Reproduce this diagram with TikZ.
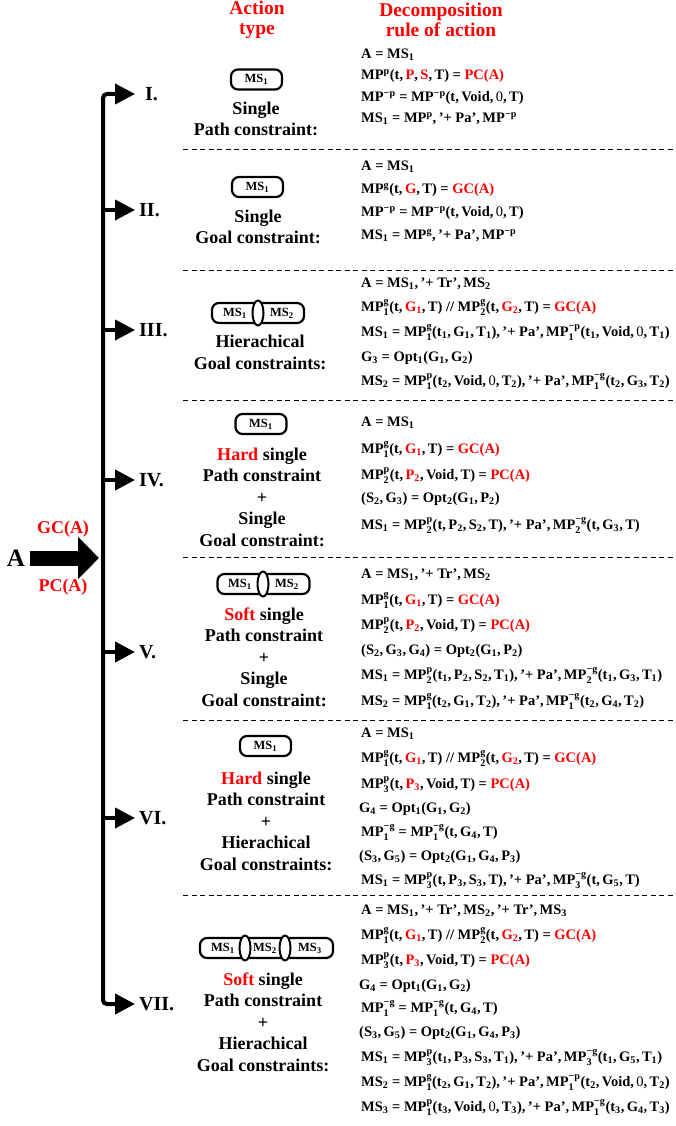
\documentclass[tikz,border=0pt]{standalone}
\usepackage{fontspec}
\setmainfont{Liberation Serif}
\usepackage{amsmath}
\usetikzlibrary{arrows.meta,calc,shapes.geometric}
\newcommand\R[1]{\textcolor{red}{#1}}
\newcommand\Sb[1]{$_{\text{#1}}$}
\newcommand\Sp[1]{$^{\text{#1}}$}
\newcommand\SU[2]{$_{\text{#1}}^{\text{#2}}$}
\newcommand\Cm{,\,}
\newcommand\Zr{{\mdseries 0}}
\tikzset{
  eq/.style={anchor=west, inner sep=0, font=\bfseries\fontsize{14.5}{16}\selectfont, text height=10pt, text depth=3.5pt},
  lab/.style={align=center, inner sep=0, font=\bfseries\fontsize{18}{21.5}\selectfont},
  head/.style={align=center, inner sep=0, text=red, font=\bfseries\fontsize{19.5}{20}\selectfont},
  num/.style={anchor=west, inner sep=0, font=\bfseries\fontsize{20}{20}\selectfont},
  msbox/.style={draw, line width=2.2pt, rounded corners=7pt, minimum height=20pt, inner sep=0},
  mst/.style={inner sep=0, font=\bfseries\fontsize{12.5}{13}\selectfont},
  oval/.style={ellipse, draw, fill=white, line width=2pt, minimum width=11pt, minimum height=25pt, inner sep=0},
  sep/.style={line width=0.9pt, dash pattern=on 5pt off 3.5pt},
  trunk/.style={line width=4pt, rounded corners=4pt, {Triangle[length=20pt,width=20pt]}-{Triangle[length=20pt,width=20pt]}},
  branch/.style={line width=4pt, -{Triangle[length=20pt,width=20pt]}},
  bigarrow/.style={line width=15pt, -{Triangle[length=21pt,width=41pt]}},
  redlab/.style={inner sep=0, text=red, font=\bfseries\fontsize{18}{18}\selectfont}
}
\begin{document}
\begin{tikzpicture}[x=1pt,y=-1pt]
\useasboundingbox (0,0) rectangle (676,1126);
% headers
\node[head] (h1) at (257,20) {Action\\type};
\node[head] (h2) at (441,20) {Decomposition\\rule of action};
% separators
\foreach \yy in {149,270,400,557,720,895} \draw[sep] (183,\yy) -- (676,\yy);
% left input
\node[inner sep=0, font=\bfseries\fontsize{25}{25}\selectfont] (A) at (16,558) {A};
\coordinate (hit) at (99,558);
\draw[bigarrow] ([xshift=5pt]A.east) -- (hit);
\node[redlab] (gc) at (63,529) {GC(A)};
\node[redlab] (pc) at (63,587) {PC(A)};
% numerals
\node[num] (r1) at (145,94) {I.};
\node[num] (r2) at (139,210) {II.};
\node[num] (r3) at (139,330) {III.};
\node[num] (r4) at (139,480) {IV.};
\node[num] (r5) at (139,652) {V.};
\node[num] (r6) at (139,818) {VI.};
\node[num] (r7) at (139,1004) {VII.};
\coordinate (tb) at (103,1004);
\draw[trunk, shorten <=10pt, shorten >=4pt] (r1.west) -| (tb) |- (r7.west);
\foreach \r in {r2,r3,r4,r5,r6} \draw[branch, shorten >=4pt] (\r.west -| tb) -- (\r.west);
% ---------- Row I
\node[msbox, minimum width=51pt] (b1) at (256.5,79.5) {};
\node[mst] (b1t) at (b1) {MS\Sb{1}};
\node[lab] (t1) at (256,119) {Single\\Path constraint:};
\node[eq] (e11) at (361,55) {A = MS\Sb{1}};
\node[eq] (e12) at (361,76) {MP\Sp{p}(t\Cm\R{P}\Cm\R{S}\Cm T) = \R{PC(A)}};
\node[eq] (e13) at (361,98) {MP\Sp{−p} = MP\Sp{−p}(t\Cm Void\Cm\Zr\Cm T)};
\node[eq] (e14) at (361,119) {MS\Sb{1} = MP\Sp{p}\Cm'+ Pa'\Cm MP\Sp{−p}};
% ---------- Row II
\node[msbox, minimum width=51pt] (b2) at (257.5,187) {};
\node[mst] (b2t) at (b2) {MS\Sb{1}};
\node[lab] (t2) at (258,227) {Single\\Goal constraint:};
\node[eq] (e21) at (361,167) {A = MS\Sb{1}};
\node[eq] (e22) at (361,190) {MP\Sp{g}(t\Cm\R{G}\Cm T) = \R{GC(A)}};
\node[eq] (e23) at (361,213) {MP\Sp{−p} = MP\Sp{−p}(t\Cm Void\Cm\Zr\Cm T)};
\node[eq] (e24) at (361,236) {MS\Sb{1} = MP\Sp{g}\Cm'+ Pa'\Cm MP\Sp{−p}};
% ---------- Row III
\node[msbox, minimum width=92pt] (b3) at (258,313) {};
\node[oval] (o3) at (258,313) {};
\node[mst] (b3a) at (235,313) {MS\Sb{1}};
\node[mst] (b3b) at (282,313) {MS\Sb{2}};
\node[lab] (t3) at (260,352.5) {Hierachical\\Goal constraints:};
\node[eq] (e31) at (361,284) {A = MS\Sb{1}\Cm'+ Tr'\Cm MS\Sb{2}};
\node[eq] (e32) at (361,308) {MP\SU{1}{g}(t\Cm\R{G\Sb{1}}\Cm T) // MP\SU{2}{g}(t\Cm\R{G\Sb{2}}\Cm T) = \R{GC(A)}};
\node[eq] (e33) at (361,333) {MS\Sb{1} = MP\SU{1}{g}(t\Sb{1}\Cm G\Sb{1}\Cm T\Sb{1})\Cm'+ Pa'\Cm MP\SU{1}{−p}(t\Sb{1}\Cm Void\Cm\Zr\Cm T\Sb{1})};
\node[eq] (e34) at (361,358) {G\Sb{3} = Opt\Sb{1}(G\Sb{1}\Cm G\Sb{2})};
\node[eq] (e35) at (361,382) {MS\Sb{2} = MP\SU{1}{p}(t\Sb{2}\Cm Void\Cm\Zr\Cm T\Sb{2})\Cm'+ Pa'\Cm MP\SU{1}{−g}(t\Sb{2}\Cm G\Sb{3}\Cm T\Sb{2})};
% ---------- Row IV
\node[msbox, minimum width=51pt] (b4) at (261,424) {};
\node[mst] (b4t) at (b4) {MS\Sb{1}};
\node[lab] (t4) at (262,497) {\R{Hard} single\\Path constraint\\+\\Single\\Goal constraint:};
\node[eq] (e41) at (361,423) {A = MS\Sb{1}};
\node[eq] (e42) at (361,450) {MP\SU{1}{g}(t\Cm\R{G\Sb{1}}\Cm T) = \R{GC(A)}};
\node[eq] (e43) at (361,476) {MP\SU{2}{p}(t\Cm\R{P\Sb{2}}\Cm Void\Cm T) = \R{PC(A)}};
\node[eq] (e44) at (361,499) {(S\Sb{2}\Cm G\Sb{3}) = Opt\Sb{2}(G\Sb{1}\Cm P\Sb{2})};
\node[eq] (e45) at (361,526) {MS\Sb{1} = MP\SU{2}{p}(t\Cm P\Sb{2}\Cm S\Sb{2}\Cm T)\Cm'+ Pa'\Cm MP\SU{2}{−g}(t\Cm G\Sb{3}\Cm T)};
% ---------- Row V
\node[msbox, minimum width=92pt] (b5) at (263.5,584) {};
\node[oval] (o5) at (263,584) {};
\node[mst] (b5a) at (240,584) {MS\Sb{1}};
\node[mst] (b5b) at (287,584) {MS\Sb{2}};
\node[lab] (t5) at (264,657) {\R{Soft} single\\Path constraint\\+\\Single\\Goal constraint:};
\node[eq] (e51) at (361,575) {A = MS\Sb{1}\Cm'+ Tr'\Cm MS\Sb{2}};
\node[eq] (e52) at (361,601) {MP\SU{1}{g}(t\Cm\R{G\Sb{1}}\Cm T) = \R{GC(A)}};
\node[eq] (e53) at (361,626) {MP\SU{2}{p}(t\Cm\R{P\Sb{2}}\Cm Void\Cm T) = \R{PC(A)}};
\node[eq] (e54) at (361,651) {(S\Sb{2}\Cm G\Sb{3}\Cm G\Sb{4}) = Opt\Sb{2}(G\Sb{1}\Cm P\Sb{2})};
\node[eq] (e55) at (361,676) {MS\Sb{1} = MP\SU{2}{p}(t\Sb{1}\Cm P\Sb{2}\Cm S\Sb{2}\Cm T\Sb{1})\Cm'+ Pa'\Cm MP\SU{2}{−g}(t\Sb{1}\Cm G\Sb{3}\Cm T\Sb{1})};
\node[eq] (e56) at (361,702) {MS\Sb{2} = MP\SU{1}{g}(t\Sb{2}\Cm G\Sb{1}\Cm T\Sb{2})\Cm'+ Pa'\Cm MP\SU{1}{−g}(t\Sb{2}\Cm G\Sb{4}\Cm T\Sb{2})};
% ---------- Row VI
\node[msbox, minimum width=51pt] (b6) at (265.5,746) {};
\node[mst] (b6t) at (b6) {MS\Sb{1}};
\node[lab] (t6) at (266,821) {\R{Hard} single\\Path constraint\\+\\Hierachical\\Goal constraints:};
\node[eq] (e61) at (361,734) {A = MS\Sb{1}};
\node[eq] (e62) at (361,759) {MP\SU{1}{g}(t\Cm\R{G\Sb{1}}\Cm T) // MP\SU{2}{g}(t\Cm\R{G\Sb{2}}\Cm T) = \R{GC(A)}};
\node[eq] (e63) at (361,785) {MP\SU{3}{p}(t\Cm\R{P\Sb{3}}\Cm Void\Cm T) = \R{PC(A)}};
\node[eq] (e64) at (359,809) {G\Sb{4} = Opt\Sb{1}(G\Sb{1}\Cm G\Sb{2})};
\node[eq] (e65) at (361,833) {MP\SU{1}{−g} = MP\SU{1}{−g}(t\Cm G\Sb{4}\Cm T)};
\node[eq] (e66) at (359,857) {(S\Sb{3}\Cm G\Sb{5}) = Opt\Sb{2}(G\Sb{1}\Cm G\Sb{4}\Cm P\Sb{3})};
\node[eq] (e67) at (361,881) {MS\Sb{1} = MP\SU{3}{p}(t\Cm P\Sb{3}\Cm S\Sb{3}\Cm T)\Cm'+ Pa'\Cm MP\SU{3}{−g}(t\Cm G\Sb{5}\Cm T)};
% ---------- Row VII
\node[msbox, minimum width=133pt] (b7) at (266.5,948) {};
\node[oval] (o7a) at (245,948) {};
\node[oval] (o7b) at (285,948) {};
\node[mst] (b7a) at (223,948) {MS\Sb{1}};
\node[mst] (b7b) at (265,948) {MS\Sb{2}};
\node[mst] (b7c) at (310,948) {MS\Sb{3}};
\node[lab] (t7) at (263,1022) {\R{Soft} single\\Path constraint\\+\\Hierachical\\Goal constraints:};
\node[eq] (e71) at (361,911) {A = MS\Sb{1}\Cm'+ Tr'\Cm MS\Sb{2}\Cm'+ Tr'\Cm MS\Sb{3}};
\node[eq] (e72) at (361,936) {MP\SU{1}{g}(t\Cm\R{G\Sb{1}}\Cm T) // MP\SU{2}{g}(t\Cm\R{G\Sb{2}}\Cm T) = \R{GC(A)}};
\node[eq] (e73) at (361,961) {MP\SU{3}{p}(t\Cm\R{P\Sb{3}}\Cm Void\Cm T) = \R{PC(A)}};
\node[eq] (e74) at (359,986) {G\Sb{4} = Opt\Sb{1}(G\Sb{1}\Cm G\Sb{2})};
\node[eq] (e75) at (361,1009) {MP\SU{1}{−g} = MP\SU{1}{−g}(t\Cm G\Sb{4}\Cm T)};
\node[eq] (e76) at (359,1033) {(S\Sb{3}\Cm G\Sb{5}) = Opt\Sb{2}(G\Sb{1}\Cm G\Sb{4}\Cm P\Sb{3})};
\node[eq] (e77) at (361,1058) {MS\Sb{1} = MP\SU{3}{p}(t\Sb{1}\Cm P\Sb{3}\Cm S\Sb{3}\Cm T\Sb{1})\Cm'+ Pa'\Cm MP\SU{3}{−g}(t\Sb{1}\Cm G\Sb{5}\Cm T\Sb{1})};
\node[eq] (e78) at (361,1083) {MS\Sb{2} = MP\SU{1}{g}(t\Sb{2}\Cm G\Sb{1}\Cm T\Sb{2})\Cm'+ Pa'\Cm MP\SU{1}{−p}(t\Sb{2}\Cm Void\Cm\Zr\Cm T\Sb{2})};
\node[eq] (e79) at (361,1108) {MS\Sb{3} = MP\SU{1}{p}(t\Sb{3}\Cm Void\Cm\Zr\Cm T\Sb{3})\Cm'+ Pa'\Cm MP\SU{1}{−g}(t\Sb{3}\Cm G\Sb{4}\Cm T\Sb{3})};
\end{tikzpicture}
\end{document}
